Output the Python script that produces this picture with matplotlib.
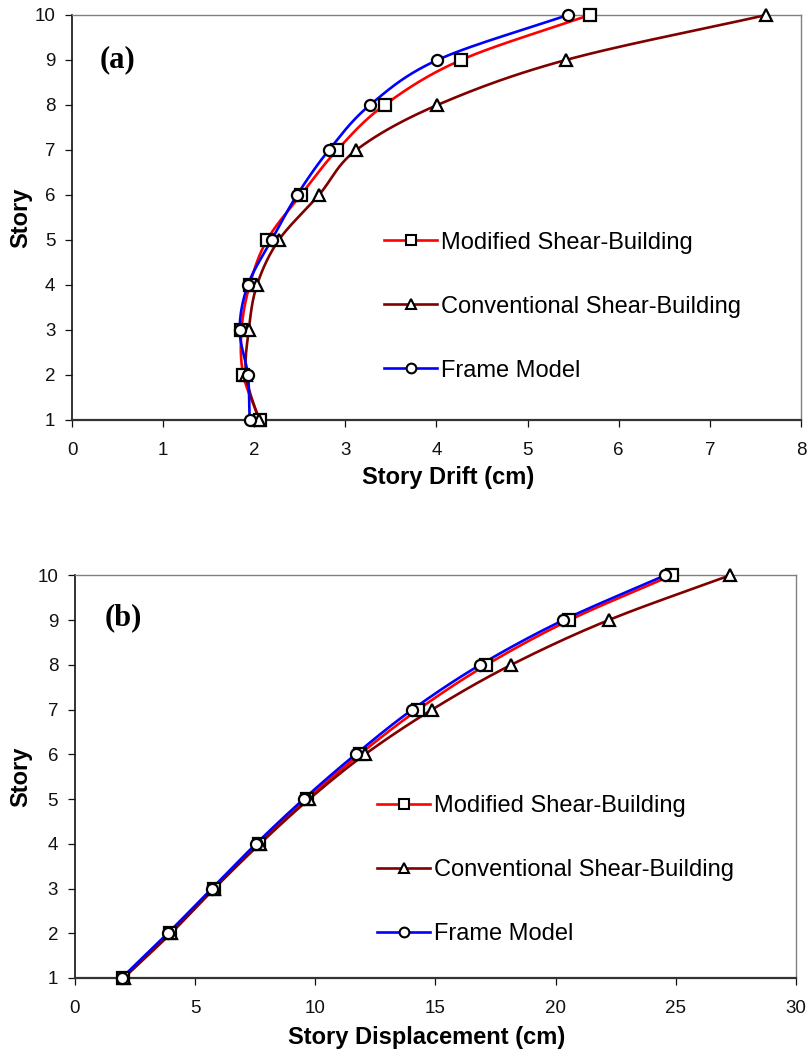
import numpy as np
import matplotlib
matplotlib.use("Agg")
import matplotlib.pyplot as plt
from matplotlib.lines import Line2D

plt.rcParams["font.family"] = ["Liberation Sans", "DejaVu Sans"]

stories = [1, 2, 3, 4, 5, 6, 7, 8, 9, 10]

# (a) story drift (cm)
drift_modified = [2.06, 1.88, 1.86, 1.95, 2.14, 2.51, 2.91, 3.43, 4.27, 5.68]
drift_conventional = [2.05, 1.91, 1.94, 2.03, 2.27, 2.71, 3.12, 4.01, 5.42, 7.62]
drift_frame = [1.95, 1.93, 1.84, 1.93, 2.19, 2.47, 2.82, 3.27, 4.01, 5.44]

# (b) story displacement (cm)
disp_modified = [2.02, 3.97, 5.77, 7.65, 9.66, 11.85, 14.28, 17.12, 20.57, 24.83]
disp_conventional = [2.03, 4.00, 5.80, 7.70, 9.75, 12.07, 14.86, 18.15, 22.20, 27.24]
disp_frame = [1.95, 3.87, 5.70, 7.54, 9.52, 11.68, 14.04, 16.86, 20.32, 24.55]

labels = ["Modified Shear-Building", "Conventional Shear-Building", "Frame Model"]
colors = ["#FF0000", "#800000", "#0000FF"]
markers = ["s", "^", "o"]


def smooth(x, y, n=25):
    # Catmull-Rom curve through the points (like Excel "smoothed line")
    pts = np.column_stack([x, y]).astype(float)
    p = np.vstack([2 * pts[0] - pts[1], pts, 2 * pts[-1] - pts[-2]])
    t = np.linspace(0, 1, n)[:, None]
    segs = []
    for i in range(1, len(p) - 2):
        p0, p1, p2, p3 = p[i - 1], p[i], p[i + 1], p[i + 2]
        seg = 0.5 * (2 * p1 + (-p0 + p2) * t
                     + (2 * p0 - 5 * p1 + 4 * p2 - p3) * t ** 2
                     + (-p0 + 3 * p1 - 3 * p2 + p3) * t ** 3)
        segs.append(seg)
    c = np.vstack(segs)
    return c[:, 0], c[:, 1]


def style_axes(ax, xmax, xstep):
    ax.set_xlim(0, xmax)
    ax.set_ylim(1, 10)
    ax.set_xticks(np.arange(0, xmax + xstep / 2, xstep))
    ax.set_yticks(stories)
    ax.spines["left"].set_color("#111111")
    ax.spines["bottom"].set_color("#333333")
    ax.spines["bottom"].set_linewidth(1.6)
    ax.spines["left"].set_linewidth(1.2)
    for s in ["top", "right"]:
        ax.spines[s].set_color("#808080")
        ax.spines[s].set_linewidth(1.0)
    ax.tick_params(axis="both", direction="out", length=5, width=0.9,
                   labelsize=13.5, colors="#111111")
    ax.tick_params(axis="x", pad=11)
    ax.tick_params(axis="y", pad=7)


def draw(ax, series):
    for vals, c, m in zip(series, colors, markers):
        sx, sy = smooth(vals, stories)
        ax.plot(sx, sy, color=c, lw=1.9, clip_on=False, zorder=3)
        ax.plot(vals, stories, ls="none", marker=m, ms=8, mfc="white",
                mec="black", mew=1.6, clip_on=False, zorder=4)


handles = [Line2D([0], [0], color=c, lw=1.9, marker=m, ms=7, mfc="white",
                  mec="black", mew=1.5) for c, m in zip(colors, markers)]

fig = plt.figure(figsize=(8.09, 10.56), dpi=100)
ax1 = fig.add_axes([0.089, 0.6023, 0.9011, 0.3835])
ax2 = fig.add_axes([0.0925, 0.0739, 0.8915, 0.3812])

legend_kw = dict(loc="upper left", frameon=False, fontsize=17,
                 handlelength=2.25, handletextpad=0.17, labelspacing=1.78,
                 borderpad=0, borderaxespad=0)

# (a)
draw(ax1, [drift_modified, drift_conventional, drift_frame])
style_axes(ax1, 8, 1)
ax1.set_xlabel("Story Drift (cm)", fontsize=17, fontweight="bold")
ax1.set_ylabel("Story", fontsize=17, fontweight="bold")
ax1.xaxis.set_label_coords(0.516, -0.114)
ax1.yaxis.set_label_coords(-0.055, 0.5)
ax1.text(0.5, 9.0, "(a)", fontsize=22, fontweight="bold", ha="center",
         va="center", family=["Liberation Serif", "DejaVu Serif"])
ax1.legend(handles, labels, bbox_to_anchor=(0.428, 0.465), **legend_kw)

# (b)
draw(ax2, [disp_modified, disp_conventional, disp_frame])
style_axes(ax2, 30, 5)
ax2.set_xlabel("Story Displacement (cm)", fontsize=17, fontweight="bold")
ax2.set_ylabel("Story", fontsize=17, fontweight="bold")
ax2.xaxis.set_label_coords(0.488, -0.12)
ax2.yaxis.set_label_coords(-0.059, 0.5)
ax2.text(2.0, 9.05, "(b)", fontsize=22, fontweight="bold", ha="center",
         va="center", family=["Liberation Serif", "DejaVu Serif"])
ax2.legend(handles, labels, bbox_to_anchor=(0.419, 0.455), **legend_kw)

fig.savefig("out.png", dpi=100)
